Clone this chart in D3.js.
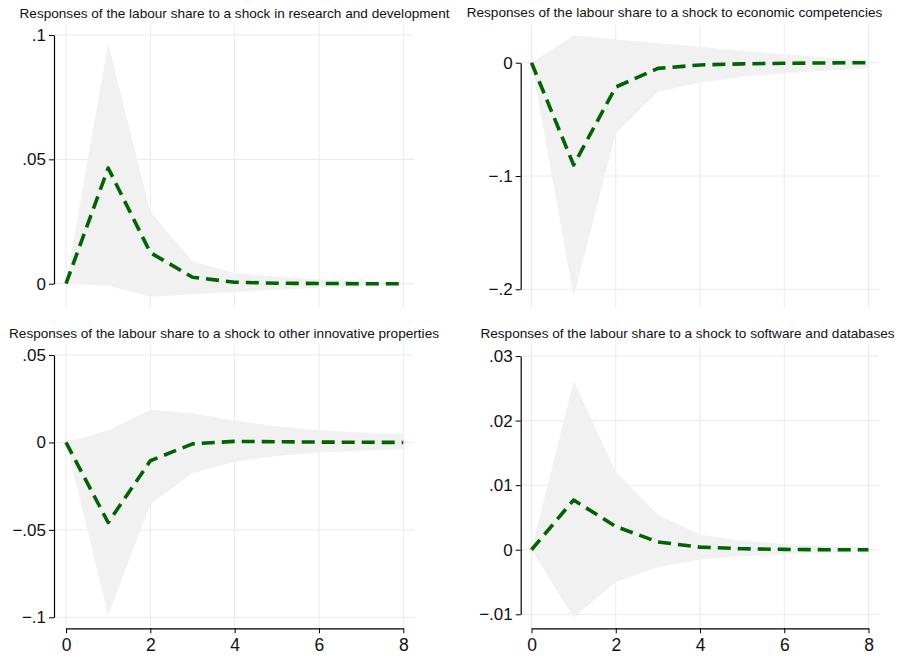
<!DOCTYPE html>
<html>
<head>
<meta charset="utf-8">
<script src="https://cdn.jsdelivr.net/npm/d3@7"></script>
<style>
  html, body { margin: 0; padding: 0; background: #fff; }
  svg { display: block; font-family: "Liberation Sans", Arial, Helvetica, sans-serif; }
</style>
</head>
<body>
<svg id="chart" width="897" height="657"></svg>
<script>
// ---------------- data ----------------
const steps = [0, 1, 2, 3, 4, 5, 6, 7, 8];
const xTicks = [0, 2, 4, 6, 8];

const titles = [
  "Responses of the labour share to a shock in research and development",
  "Responses of the labour share to a shock to economic competencies",
  "Responses of the labour share to a shock to other innovative properties",
  "Responses of the labour share to a shock to software and databases"
];

// Research and development
const rdIrf   = [0, 0.0465, 0.0125, 0.0026, 0.0006, 0.0002, 0.0001, 0, 0];
const rdUpper = [0, 0.0967, 0.0290, 0.0090, 0.0043, 0.0028, 0.0018, 0.0010, 0.0004];
const rdLower = [0, -0.0008, -0.0052, -0.0042, -0.0033, -0.0024, -0.0016, -0.0010, -0.0005];
const rdTicks = [0, 0.05, 0.1];
const rdTickLabels = ["0", ".05", ".1"];

// Economic competencies
const ecIrf   = [0, -0.0903, -0.0215, -0.0050, -0.0020, -0.0010, -0.0005, -0.0002, 0];
const ecUpper = [0, 0.0240, 0.0206, 0.0172, 0.0141, 0.0106, 0.0074, 0.0045, 0.0018];
const ecLower = [0, -0.2065, -0.0623, -0.0258, -0.0175, -0.0125, -0.0094, -0.0070, -0.0050];
const ecTicks = [-0.2, -0.1, 0];
const ecTickLabels = ["\u2212.2", "\u2212.1", "0"];

// Other innovative properties
const oiIrf   = [0, -0.0458, -0.0105, -0.0008, 0.0006, 0.0004, 0.0002, 0.0001, 0];
const oiUpper = [0, 0.0070, 0.0187, 0.0167, 0.0124, 0.0092, 0.0070, 0.0057, 0.0048];
const oiLower = [0, -0.0989, -0.0353, -0.0176, -0.0111, -0.0077, -0.0057, -0.0047, -0.0038];
const oiTicks = [-0.1, -0.05, 0, 0.05];
const oiTickLabels = ["\u2212.1", "\u2212.05", "0", ".05"];

// Software and databases
const swIrf   = [0, 0.0077, 0.0036, 0.0012, 0.0004, 0.00015, 0.00005, 0, 0];
const swUpper = [0, 0.0261, 0.0121, 0.0054, 0.0023, 0.0014, 0.0009, 0.0006, 0.0004];
const swLower = [0, -0.0105, -0.0050, -0.0027, -0.0015, -0.0010, -0.0007, -0.0005, -0.0004];
const swTicks = [-0.01, 0, 0.01, 0.02, 0.03];
const swTickLabels = ["\u2212.01", "0", ".01", ".02", ".03"];

// ---------------- layout ----------------
const panels = [
  { title: titles[0], irf: rdIrf, up: rdUpper, lo: rdLower, ticks: rdTicks, labels: rdTickLabels,
    axisX: 54, xr: [66, 403.3], right: 414, yr: [283.7, 35], top: 25, bottom: 308,
    titleX: 234.5, titleY: 18, xAxis: false },
  { title: titles[1], irf: ecIrf, up: ecUpper, lo: ecLower, ticks: ecTicks, labels: ecTickLabels,
    axisX: 520.7, xr: [531.5, 868.5], right: 879, yr: [289.3, 62.7], top: 25, bottom: 308,
    titleX: 674.5, titleY: 16.5, xAxis: false },
  { title: titles[2], irf: oiIrf, up: oiUpper, lo: oiLower, ticks: oiTicks, labels: oiTickLabels,
    axisX: 54, xr: [66, 403.3], right: 414, yr: [617.3, 355], top: 345, bottom: 628.3,
    titleX: 224, titleY: 338, xAxis: true },
  { title: titles[3], irf: swIrf, up: swUpper, lo: swLower, ticks: swTicks, labels: swTickLabels,
    axisX: 520.7, xr: [531.5, 868.5], right: 879, yr: [614.3, 356], top: 345, bottom: 628.3,
    titleX: 687.5, titleY: 337.5, xAxis: true }
];

const svg = d3.select("#chart");

panels.forEach(p => {
  const g = svg.append("g");
  const x = d3.scaleLinear().domain([0, 8]).range(p.xr);
  const y = d3.scaleLinear().domain([p.ticks[0], p.ticks[p.ticks.length - 1]]).range(p.yr);

  // horizontal gridlines
  g.append("g").selectAll("line").data(p.ticks).join("line")
    .attr("x1", p.axisX).attr("x2", p.right)
    .attr("y1", d => y(d)).attr("y2", d => y(d))
    .attr("stroke", "#eaeaea").attr("stroke-width", 1);
  // vertical gridlines
  g.append("g").selectAll("line").data(xTicks).join("line")
    .attr("x1", d => x(d)).attr("x2", d => x(d))
    .attr("y1", p.top).attr("y2", p.bottom)
    .attr("stroke", "#eaeaea").attr("stroke-width", 1);

  // confidence band
  const area = d3.area()
    .x((d, i) => x(steps[i]))
    .y0((d, i) => y(p.lo[i]))
    .y1((d, i) => y(p.up[i]));
  g.append("path").datum(steps).attr("d", area)
    .attr("fill", "#f1f1f1").attr("stroke", "none");

  // impulse response line
  const line = d3.line().x((d, i) => x(steps[i])).y(d => y(d));
  g.append("path").datum(p.irf).attr("d", line)
    .attr("fill", "none").attr("stroke", "#006400")
    .attr("stroke-width", 3.6).attr("stroke-dasharray", "13,7")
    .attr("stroke-linejoin", "round");

  // y axis
  const yAxis = d3.axisLeft(y).tickValues(p.ticks)
    .tickFormat((d, i) => p.labels[i]).tickSize(5).tickSizeOuter(0).tickPadding(3);
  const ya = g.append("g").attr("transform", `translate(${p.axisX},0)`).call(yAxis);
  ya.select(".domain").attr("stroke", "#000").attr("stroke-width", 1.2);
  ya.selectAll(".tick line").attr("stroke", "#000").attr("stroke-width", 1);
  ya.selectAll(".tick text").attr("font-size", "17px").attr("fill", "#111")
    .attr("font-family", '"Liberation Sans", Arial, Helvetica, sans-serif');

  // x axis (bottom row only)
  if (p.xAxis) {
    const xAxis = d3.axisBottom(x).tickValues(xTicks).tickFormat(d3.format("d"))
      .tickSize(5).tickSizeOuter(0).tickPadding(5);
    const xa = g.append("g").attr("transform", `translate(0,${p.bottom})`).call(xAxis);
    xa.select(".domain").attr("stroke", "#000").attr("stroke-width", 1.2);
    xa.selectAll(".tick line").attr("stroke", "#000").attr("stroke-width", 1);
    xa.selectAll(".tick text").attr("font-size", "17.5px").attr("fill", "#111")
      .attr("font-family", '"Liberation Sans", Arial, Helvetica, sans-serif');
  }

  // title
  g.append("text").attr("x", p.titleX).attr("y", p.titleY)
    .attr("text-anchor", "middle").attr("font-size", "13.6px").attr("fill", "#111")
    .text(p.title);
});
</script>
</body>
</html>
